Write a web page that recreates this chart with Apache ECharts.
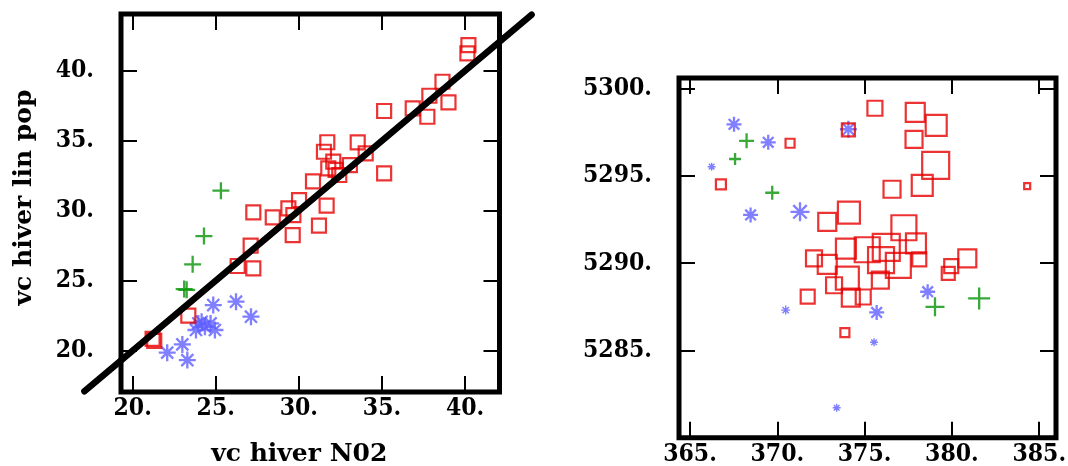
<!DOCTYPE html>
<html><head><meta charset="utf-8">
<script src="https://cdn.jsdelivr.net/npm/echarts@6/dist/echarts.min.js"></script>
<style>html,body{margin:0;padding:0;background:#fff}#c{width:1068px;height:466px}</style>
</head><body><div id="c"></div>
<script>
// ---- tick labels ----
const leftXTicks = [20, 25, 30, 35, 40];
const leftYTicks = [20, 25, 30, 35, 40];
const rightXTicks = [365, 370, 375, 380, 385];
const rightYTicks = [5285, 5290, 5295, 5300];

// ---- left panel: [vc hiver NO2, vc hiver lin pop] ----
const leftSquares = [
  [21.2, 20.85], [21.3, 20.7], [23.35, 22.5], [26.32, 26.05], [27.26, 25.88], [27.1, 27.5],
  [27.26, 29.88], [28.43, 29.52], [29.63, 28.26], [29.37, 30.17], [29.67, 29.69], [30.01, 30.76],
  [31.21, 28.93], [31.67, 30.36], [30.85, 32.1], [31.71, 34.89], [31.51, 34.21], [32.07, 33.5],
  [31.77, 33.03], [32.21, 32.91], [33.07, 33.26], [32.43, 32.55], [33.54, 34.88], [34.02, 34.1],
  [35.13, 32.67], [35.13, 37.12], [36.85, 37.31], [37.73, 36.71], [37.85, 38.21], [38.64, 39.21],
  [39.0, 37.74], [40.14, 41.24], [40.2, 41.83]
];
const leftStars = [
  [22.08, 19.86], [22.99, 20.45], [23.29, 19.33], [23.81, 21.48], [23.95, 21.95], [24.15, 22.07],
  [24.35, 21.71], [24.69, 21.95], [24.85, 23.26], [24.95, 21.48], [26.22, 23.5], [27.12, 22.43]
];
const leftPlus = [
  [25.31, 31.43], [24.29, 28.19], [23.61, 26.17], [23.1, 24.4], [23.25, 24.35]
];
// y = x reference line: [x1, y1, x2, y2]
const diagLine = [[17.1, 17.1, 44.0, 44.0]];

// ---- right panel: [x, y, magnitude] ----
const rightSquares = [
  [375.59, 5298.86, 17], [377.9, 5298.63, 21], [379.1, 5297.88, 23], [377.83, 5297.08, 19],
  [379.07, 5295.6, 29], [378.3, 5294.45, 23], [376.57, 5294.23, 19], [384.31, 5294.41, 8],
  [374.07, 5297.62, 15], [370.73, 5296.86, 11], [366.77, 5294.51, 12], [373.87, 5286.03, 11],
  [372.86, 5292.37, 20], [374.1, 5292.89, 24], [377.25, 5292.03, 27], [377.94, 5291.14, 22],
  [372.1, 5290.28, 18], [372.86, 5289.94, 21], [373.93, 5290.83, 22], [375.15, 5290.77, 27],
  [376.24, 5290.91, 29], [375.94, 5290.18, 28], [376.93, 5289.88, 27], [378.13, 5290.22, 16],
  [374.01, 5289.15, 25], [373.25, 5288.74, 18], [375.9, 5289.04, 19], [374.21, 5288.03, 20],
  [374.92, 5288.07, 17], [371.74, 5288.09, 16], [379.96, 5289.84, 16], [379.79, 5289.42, 15],
  [380.88, 5290.28, 20]
];
const rightStars = [
  [367.52, 5297.94, 15], [369.48, 5296.91, 15], [366.24, 5295.52, 8], [368.47, 5292.76, 15],
  [371.3, 5292.94, 19], [374.07, 5297.66, 17], [370.48, 5287.32, 9], [375.69, 5287.19, 15],
  [375.54, 5285.48, 8], [373.4, 5281.74, 8], [378.61, 5288.37, 15]
];
const rightPlus = [
  [368.24, 5297.0, 15], [367.58, 5295.96, 12], [369.71, 5294.03, 14], [379.03, 5287.51, 19],
  [381.56, 5287.99, 22]
];

const RED = '#e60000', BLUE = '#5f5fff', GREEN = '#069406';
const FONT = '"DejaVu Serif Condensed", "DejaVu Serif", serif';
const TFONT = '"DejaVu Serif", serif';
const PLUS = 'path://M0 5L10 5M5 0L5 10';
const STAR = 'path://M0 5L10 5M5 0L5 10M1.46 1.46L8.54 8.54M1.46 8.54L8.54 1.46';

function axis(kind, grid, pos, min, max, ticks, showLabel, extra) {
  const a = {
    type: 'value', gridIndex: grid, position: pos, min: min, max: max,
    axisLine: { show: false }, splitLine: { show: false },
    axisTick: { show: true, inside: true, length: 16, customValues: ticks,
      lineStyle: { color: '#000', width: 2 } },
    axisLabel: { show: showLabel, customValues: ticks, formatter: v => v + '.',
      color: '#000', fontFamily: FONT, fontWeight: 'bold', fontSize: 24.5,
      margin: kind === 'x' ? 4 : 27 }
  };
  return Object.assign(a, extra || {});
}
const nameStyle = { color: '#000', fontFamily: TFONT, fontWeight: 'bold', fontSize: 25 };

// small asterisks get a thinner stroke so the rays stay visible
const rightStarItems = rightStars.map(d => ({
  value: d, itemStyle: { borderWidth: d[2] < 11 ? 1.4 : 2.3 }
}));

const chart = echarts.init(document.getElementById('c'));
chart.setOption({
  animation: false,
  backgroundColor: '#fff',
  grid: [
    { left: 121, top: 14, width: 378.5, height: 378, show: true, borderColor: '#000', borderWidth: 5,
      containLabel: false, outerBoundsMode: 'none' },
    { left: 679, top: 78, width: 377, height: 359.8, show: true, borderColor: '#000', borderWidth: 5,
      containLabel: false, outerBoundsMode: 'none' }
  ],
  xAxis: [
    axis('x', 0, 'bottom', 19.3, 42.07, leftXTicks, true,
      { name: 'vc hiver N02', nameLocation: 'middle', nameGap: 50,
        nameTextStyle: Object.assign({ padding: [0, 22, 0, 0] }, nameStyle) }),
    axis('x', 0, 'top', 19.3, 42.07, leftXTicks, false),
    axis('x', 1, 'bottom', 364.37, 385.96, rightXTicks, true),
    axis('x', 1, 'top', 364.37, 385.96, rightXTicks, false)
  ],
  yAxis: [
    axis('y', 0, 'left', 17.05, 44.05, leftYTicks, true,
      { name: 'vc hiver lin pop', nameLocation: 'middle', nameGap: 84, nameRotate: 90,
        nameTextStyle: Object.assign({ padding: [0, 0, 0, 11] }, nameStyle) }),
    axis('y', 0, 'right', 17.05, 44.05, leftYTicks, false),
    axis('y', 1, 'left', 5280.02, 5300.59, rightYTicks, true),
    axis('y', 1, 'right', 5280.02, 5300.59, rightYTicks, false)
  ],
  visualMap: [
    { show: false, type: 'continuous', seriesIndex: [6], dimension: 2, min: 2, max: 32,
      inRange: { symbolSize: [0, 30] } },
    { show: false, type: 'continuous', seriesIndex: [4, 5], dimension: 2, min: 0, max: 30,
      inRange: { symbolSize: [0, 30] } }
  ],
  series: [
    { type: 'scatter', xAxisIndex: 0, yAxisIndex: 0, data: leftStars, symbol: STAR, symbolSize: 17,
      itemStyle: { color: 'rgba(0,0,0,0)', borderColor: BLUE, borderWidth: 2.3 }, silent: true },
    { type: 'scatter', xAxisIndex: 0, yAxisIndex: 0, data: leftPlus, symbol: PLUS, symbolSize: 17,
      itemStyle: { color: 'rgba(0,0,0,0)', borderColor: GREEN, borderWidth: 2.3 }, silent: true },
    { type: 'scatter', xAxisIndex: 0, yAxisIndex: 0, data: leftSquares, symbol: 'rect', symbolSize: 14,
      itemStyle: { color: 'rgba(0,0,0,0)', borderColor: RED, borderWidth: 2.2 }, silent: true },
    { type: 'custom', xAxisIndex: 0, yAxisIndex: 0, data: diagLine, clip: false, z: 10, silent: true,
      encode: { x: [0, 2], y: [1, 3] },
      renderItem: function (params, api) {
        const p1 = api.coord([api.value(0), api.value(1)]);
        const p2 = api.coord([api.value(2), api.value(3)]);
        return { type: 'line', shape: { x1: p1[0], y1: p1[1], x2: p2[0], y2: p2[1] },
          style: { stroke: '#000', lineWidth: 6.5, lineCap: 'round', fill: null } };
      } },
    { type: 'scatter', xAxisIndex: 2, yAxisIndex: 2, data: rightStarItems, symbol: STAR,
      itemStyle: { color: 'rgba(0,0,0,0)', borderColor: BLUE, borderWidth: 2.3 }, silent: true },
    { type: 'scatter', xAxisIndex: 2, yAxisIndex: 2, data: rightPlus, symbol: PLUS,
      itemStyle: { color: 'rgba(0,0,0,0)', borderColor: GREEN, borderWidth: 2.3 }, silent: true },
    { type: 'scatter', xAxisIndex: 2, yAxisIndex: 2, data: rightSquares, symbol: 'rect',
      itemStyle: { color: 'rgba(0,0,0,0)', borderColor: RED, borderWidth: 2.2 }, silent: true }
  ]
});
</script></body></html>
